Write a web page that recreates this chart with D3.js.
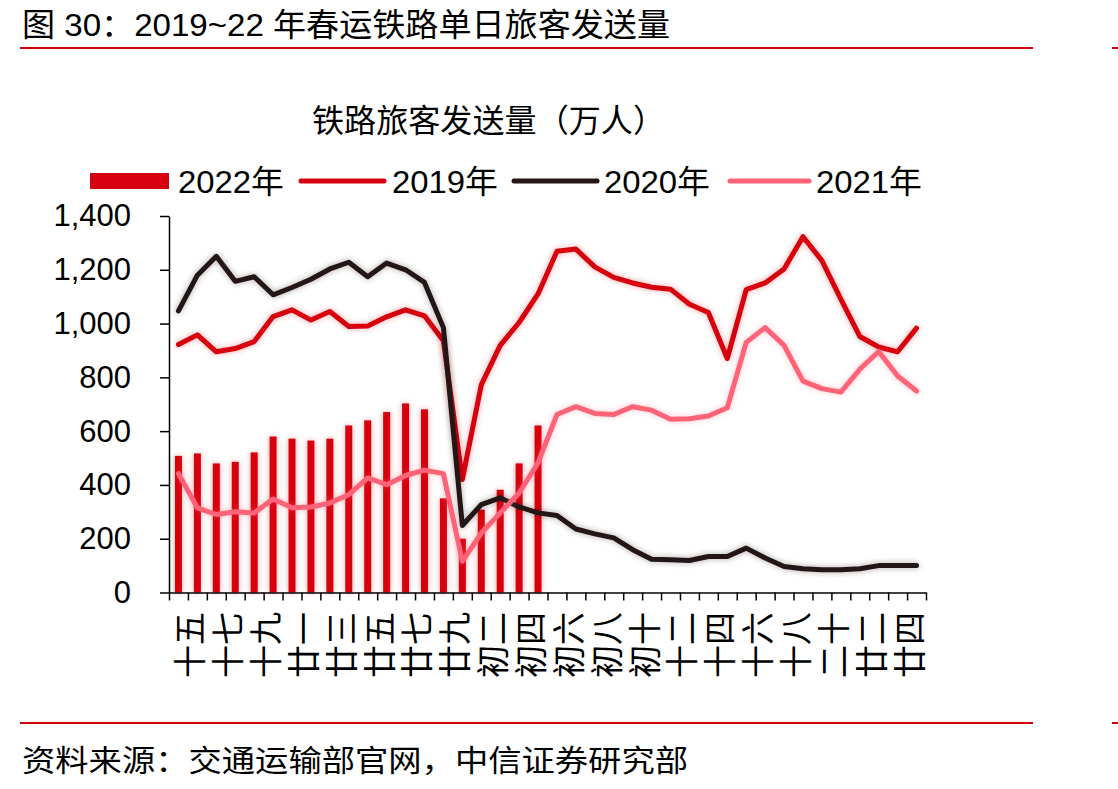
<!DOCTYPE html>
<html>
<head>
<meta charset="utf-8">
<script src="https://cdn.jsdelivr.net/npm/d3@7"></script>
<style>
  html, body { margin: 0; padding: 0; background: #fff; }
  svg text { font-family: "Liberation Sans", Arial, "Noto Sans CJK SC", sans-serif; fill: #000; }
</style>
</head>
<body>
<svg id="chart" width="1118" height="789"></svg>
<script>
// lunar-calendar day labels (腊月十五 .. 正月廿五)
var days = ['十五','十六','十七','十八','十九','二十','廿一','廿二','廿三','廿四',
            '廿五','廿六','廿七','廿八','廿九','初一','初二','初三','初四','初五',
            '初六','初七','初八','初九','初十','十一','十二','十三','十四','十五',
            '十六','十七','十八','十九','二十','廿一','廿二','廿三','廿四','廿五'];

var yTicks = [0, 200, 400, 600, 800, 1000, 1200, 1400];

// 万人
var v2022 = [508, 517, 480, 486, 521, 580, 572, 565, 572, 621,
             640, 671, 703, 681, 350, 200, 308, 382, 480, 621];

var v2019 = [922, 958, 895, 907, 933, 1026, 1051, 1013, 1045, 989,
             991, 1025, 1051, 1029, 936, 420, 772, 919, 1004, 1110,
             1269, 1277, 1211, 1172, 1151, 1135, 1128, 1072, 1041, 870,
             1126, 1151, 1203, 1323, 1234, 1091, 952, 913, 895, 983];

var v2020 = [1047, 1180, 1250, 1157, 1174, 1107, 1134, 1165, 1203, 1228,
             1174, 1225, 1200, 1153, 985, 249, 327, 352, 318, 296,
             286, 236, 218, 203, 159, 124, 122, 119, 134, 134,
             165, 128, 97, 88, 85, 85, 88, 100, 100, 100];

var v2021 = [442, 315, 290, 300, 296, 348, 315, 318, 333, 364,
             426, 401, 435, 455, 442, 116, 221, 296, 370, 482,
             662, 691, 666, 662, 691, 678, 644, 646, 656, 687,
             930, 985, 919, 786, 758, 745, 830, 896, 805, 749];

var RED = '#d7000f';
var BLACK = '#231815';
var PINK = '#ff6377';

var svg = d3.select('#chart');

// soft glow like the original office chart
var defs = svg.append('defs');
var glow = defs.append('filter')
    .attr('id', 'glow')
    .attr('x', '-10%').attr('y', '-10%')
    .attr('width', '120%').attr('height', '120%');
glow.append('feGaussianBlur')
    .attr('in', 'SourceGraphic')
    .attr('stdDeviation', 3)
    .attr('result', 'blur');
glow.append('feComponentTransfer')
    .attr('in', 'blur')
    .attr('result', 'soft')
  .append('feFuncA')
    .attr('type', 'linear')
    .attr('slope', 0.35);
var merge = glow.append('feMerge');
merge.append('feMergeNode').attr('in', 'soft');
merge.append('feMergeNode').attr('in', 'SourceGraphic');

// header / footer
svg.append('text')
    .attr('x', 22).attr('y', 36)
    .attr('font-size', 32)
    .attr('textLength', 648)
    .attr('lengthAdjust', 'spacingAndGlyphs')
    .text('图 30：2019~22 年春运铁路单日旅客发送量');

[48, 723].forEach(function(yy) {
  svg.append('line')
      .attr('x1', 20).attr('x2', 1033).attr('y1', yy).attr('y2', yy)
      .attr('stroke', '#d0000a').attr('stroke-width', 2);
  svg.append('line')
      .attr('x1', 1112).attr('x2', 1118).attr('y1', yy).attr('y2', yy)
      .attr('stroke', '#d0000a').attr('stroke-width', 2);
});

svg.append('text')
    .attr('x', 22).attr('y', 771)
    .attr('font-size', 30)
    .attr('textLength', 666)
    .attr('lengthAdjust', 'spacingAndGlyphs')
    .text('资料来源：交通运输部官网，中信证券研究部');

svg.append('text')
    .attr('x', 312).attr('y', 132)
    .attr('font-size', 32)
    .attr('textLength', 353)
    .attr('lengthAdjust', 'spacingAndGlyphs')
    .text('铁路旅客发送量（万人）');

// scales
var plotLeft = 169, plotRight = 926, plotTop = 216, plotBottom = 592.5;

var x = d3.scaleBand()
    .domain(d3.range(days.length))
    .range([plotLeft, plotRight]);

var xEdge = d3.scaleLinear()
    .domain([0, days.length])
    .range([plotLeft, plotRight]);

var y = d3.scaleLinear()
    .domain([0, 1400])
    .range([plotBottom, plotTop]);

function cx(i) { return x(i) + x.bandwidth() / 2; }

// bars (2022)
svg.append('g')
    .attr('filter', 'url(#glow)')
    .selectAll('rect')
    .data(v2022)
    .enter()
    .append('rect')
      .attr('x', function(d, i) { return cx(i) - 3.5; })
      .attr('y', function(d) { return y(d); })
      .attr('width', 7)
      .attr('height', function(d) { return y(0) - y(d); })
      .attr('fill', RED);

// lines
var line = d3.line()
    .x(function(d, i) { return cx(i); })
    .y(function(d) { return y(d); });

var series = [
  {values: v2019, color: RED},
  {values: v2020, color: BLACK},
  {values: v2021, color: PINK}
];

series.forEach(function(s) {
  svg.append('path')
      .datum(s.values)
      .attr('d', line)
      .attr('fill', 'none')
      .attr('stroke', s.color)
      .attr('stroke-width', 5)
      .attr('stroke-linejoin', 'round')
      .attr('stroke-linecap', 'round')
      .attr('filter', 'url(#glow)');
});

// y axis
var yAxis = svg.append('g')
    .attr('transform', 'translate(' + plotLeft + ',0)')
    .call(d3.axisLeft(y)
      .tickValues(yTicks)
      .tickSize(9)
      .tickSizeOuter(0)
      .tickPadding(29)
      .tickFormat(d3.format(',')));
yAxis.selectAll('text')
    .attr('font-size', 31)
    .attr('font-family', '"Liberation Sans", Arial, sans-serif')
    .attr('fill', '#000');
yAxis.selectAll('line, path').attr('stroke', '#000').attr('stroke-width', 1.5);

// x axis: ticks on category edges
var xAxis = svg.append('g')
    .attr('transform', 'translate(0,' + plotBottom + ')')
    .call(d3.axisBottom(xEdge)
      .tickValues(d3.range(days.length + 1))
      .tickSize(8)
      .tickSizeOuter(0)
      .tickFormat(''));
xAxis.selectAll('line, path').attr('stroke', '#000').attr('stroke-width', 1.5);

// every other day label, rotated
svg.append('g')
    .selectAll('text')
    .data(days.filter(function(d, i) { return i % 2 === 0; }))
    .enter()
    .append('text')
      .attr('transform', function(d, k) {
        return 'translate(' + (cx(k * 2) + 12) + ',612) rotate(-90)';
      })
      .attr('text-anchor', 'end')
      .attr('dy', '0.36em')
      .attr('font-size', 33)
      .text(function(d) { return d; });

// legend
var legend = svg.append('g');
legend.append('rect')
    .attr('x', 90).attr('y', 173)
    .attr('width', 79).attr('height', 16)
    .attr('fill', RED);

var legendItems = [
  {label: '2022年', x: 178},
  {label: '2019年', x: 392, color: RED, x1: 301, x2: 384},
  {label: '2020年', x: 604, color: BLACK, x1: 514, x2: 597},
  {label: '2021年', x: 816, color: PINK, x1: 730, x2: 809}
];

legendItems.forEach(function(item) {
  if (item.color) {
    legend.append('line')
        .attr('x1', item.x1).attr('x2', item.x2)
        .attr('y1', 181).attr('y2', 181)
        .attr('stroke', item.color)
        .attr('stroke-width', 5)
        .attr('stroke-linecap', 'round');
  }
  legend.append('text')
      .attr('x', item.x).attr('y', 193)
      .attr('font-size', 32)
      .attr('textLength', 106)
      .attr('lengthAdjust', 'spacingAndGlyphs')
      .text(item.label);
});
</script>
</body>
</html>
